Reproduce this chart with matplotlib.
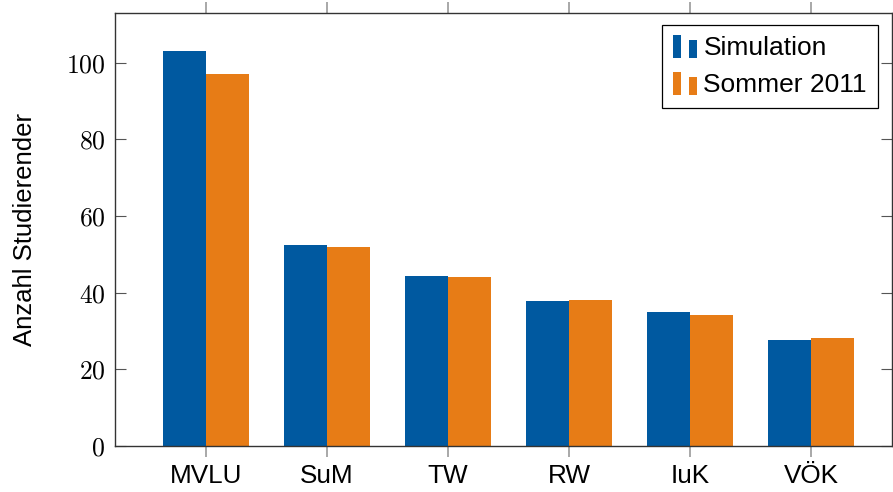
import matplotlib
matplotlib.use("Agg")
import matplotlib.pyplot as plt
import numpy as np
from matplotlib.legend_handler import HandlerBase
from matplotlib.patches import Rectangle, Patch

categories = ["MVLU", "SuM", "TW", "RW", "IuK", "VÖK"]
simulation = [103, 52.5, 44.4, 37.9, 34.9, 27.7]
sommer2011 = [97, 52.0, 44.0, 38.1, 34.1, 28.1]
yticks = [0, 20, 40, 60, 80, 100]

BLUE = "#0059A0"
ORANGE = "#E77C16"

plt.rcParams["mathtext.fontset"] = "cm"
plt.rcParams["font.family"] = ["Liberation Sans", "DejaVu Sans"]

W, H = 893, 492
fig = plt.figure(figsize=(W / 100, H / 100), dpi=100)
ax = fig.add_axes([115 / W, (H - 446) / H, (892 - 115) / W, (446 - 13) / H])

x = np.arange(len(categories))
bw = 0.355
ax.bar(x - bw / 2, simulation, bw, color=BLUE, label="Simulation", linewidth=0)
ax.bar(x + bw / 2, sommer2011, bw, color=ORANGE, label="Sommer 2011", linewidth=0)

ax.set_xlim(-0.752, 5.67)
ax.set_ylim(0, 113)
ax.set_yticks(yticks)
ax.set_yticklabels([f"${v}$" for v in yticks], fontsize=18.5)
ax.set_xticks(x)
ax.set_xticklabels(categories, fontsize=18.8)

for s in ax.spines.values():
    s.set_color("#333333")
    s.set_linewidth(1.0)

ax.tick_params(axis="x", direction="out", length=8, width=1.2, color="#999999",
               top=True, bottom=True, pad=5)
ax.tick_params(axis="y", direction="in", length=8, width=0.8, color="#555555",
               left=True, right=True, pad=7)

ax.set_ylabel("Anzahl Studierender", fontsize=18.5, labelpad=21)


class TwoBar(HandlerBase):
    def create_artists(self, legend, orig_handle, xdescent, ydescent, width, height, fontsize, trans):
        c = orig_handle.get_facecolor()
        bwid = width * 0.33
        r1 = Rectangle((-xdescent, -ydescent - 0.15 * height), bwid, height * 1.25,
                       facecolor=c, edgecolor="none", transform=trans)
        r2 = Rectangle((-xdescent + width - bwid, -ydescent - 0.15 * height), bwid, height * 0.95,
                       facecolor=c, edgecolor="none", transform=trans)
        return [r1, r2]


handles = [Patch(facecolor=BLUE), Patch(facecolor=ORANGE)]
leg = ax.legend(handles, ["Simulation", "Sommer 2011"], loc="upper right",
                bbox_to_anchor=(0.982, 0.972), borderaxespad=0, fontsize=19,
                handler_map={Patch: TwoBar()}, handlelength=0.91, handletextpad=0.23,
                labelspacing=0.48, borderpad=0.42, fancybox=False, framealpha=1,
                edgecolor="black")
leg.get_frame().set_linewidth(0.9)

fig.savefig("out.png", dpi=100)
